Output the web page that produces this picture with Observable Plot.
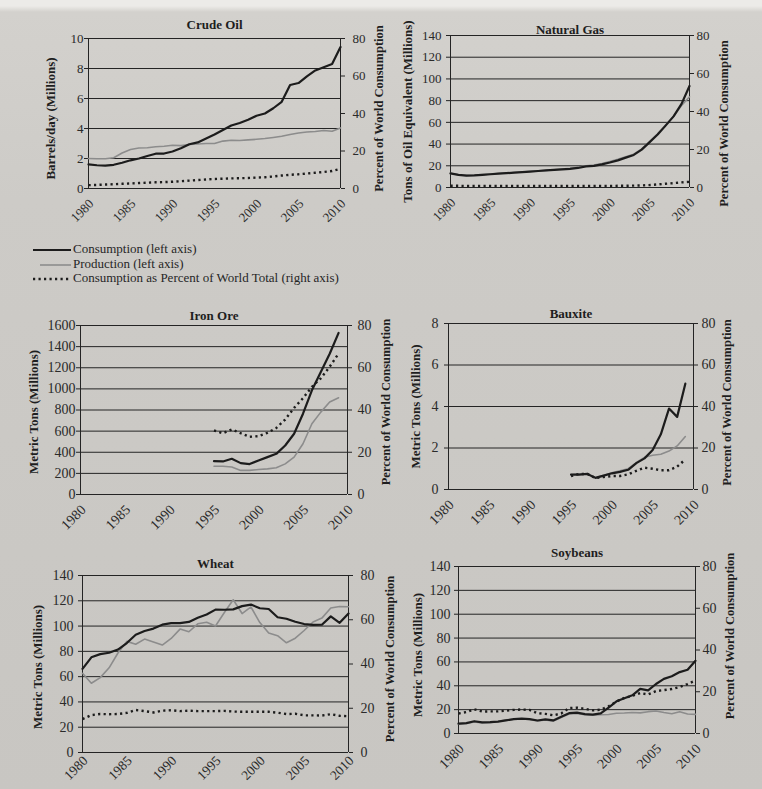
<!DOCTYPE html>
<html>
<head>
<meta charset="utf-8">
<script src="https://cdn.jsdelivr.net/npm/d3@7"></script>
<script src="https://cdn.jsdelivr.net/npm/@observablehq/plot@0.6"></script>
<style>
  html, body { margin: 0; padding: 0; background: #cbc9c5; }
  #page { position: relative; width: 762px; height: 789px; overflow: hidden;
          background: linear-gradient(to bottom, #ecebe8 0px, #ecebe8 6px, #d3d1cd 12px, #cdcbc7 200px, #c8c6c2 789px);
          font-family: 'Liberation Serif', 'DejaVu Serif', serif; color: #262626; }
  .panel { position: absolute; }
  .legrow { position: absolute; left: 0; height: 15px; font-size: 13px; line-height: 15px; white-space: nowrap; }
  .legrow svg { position: absolute; top: 0; }
  .legrow span { position: absolute; left: 40px; top: -1px; }
</style>
</head>
<body>
<div id="page"></div>
<script>
// ---------- Data ----------
const yearsFull = [1980, 1981, 1982, 1983, 1984, 1985, 1986, 1987, 1988, 1989, 1990,
                   1991, 1992, 1993, 1994, 1995, 1996, 1997, 1998, 1999, 2000,
                   2001, 2002, 2003, 2004, 2005, 2006, 2007, 2008, 2009, 2010];
const yearsLate = [1995, 1996, 1997, 1998, 1999, 2000, 2001, 2002, 2003, 2004, 2005, 2006, 2007, 2008, 2009];
const xTickYears = [1980, 1985, 1990, 1995, 2000, 2005, 2010];
const pctTicks = [0, 20, 40, 60, 80];

// Crude Oil (barrels/day, millions)
const oilTicks = [0, 2, 4, 6, 8, 10];
const oilConsumption = [1.61, 1.55, 1.53, 1.58, 1.72, 1.88, 2.0, 2.17, 2.32, 2.33, 2.47,
                        2.68, 2.95, 3.07, 3.33, 3.6, 3.9, 4.2, 4.37, 4.58, 4.85,
                        5.0, 5.35, 5.78, 6.9, 7.03, 7.48, 7.87, 8.08, 8.3, 9.43];
const oilProduction = [2.0, 1.98, 1.98, 2.05, 2.37, 2.6, 2.7, 2.72, 2.78, 2.82, 2.88,
                       2.86, 2.93, 2.97, 3.0, 3.0, 3.16, 3.22, 3.2, 3.24, 3.28,
                       3.33, 3.4, 3.48, 3.6, 3.7, 3.77, 3.8, 3.87, 3.82, 4.04];
const oilPct = [1.8, 1.9, 2.1, 2.3, 2.5, 2.7, 2.9, 3.1, 3.3, 3.4, 3.6,
                3.9, 4.2, 4.5, 4.8, 5.1, 5.2, 5.4, 5.5, 5.6, 5.8,
                6.0, 6.4, 6.9, 7.3, 7.6, 8.0, 8.4, 8.8, 9.3, 10.5];

// Natural Gas (tons of oil equivalent, millions)
const gasTicks = [0, 20, 40, 60, 80, 100, 120, 140];
const gasConsumption = [13, 11.7, 11, 11.2, 11.7, 12.2, 12.7, 13.2, 13.7, 14.2, 14.7,
                        15.2, 15.7, 16.2, 16.7, 17.2, 18, 19.4, 19.9, 21.3, 23,
                        25, 27.5, 30, 34.9, 41.8, 48.8, 57, 65.5, 77, 93.5];
const gasProduction = [13, 11.8, 11.2, 11.4, 11.9, 12.4, 12.9, 13.3, 13.8, 14.3, 14.9,
                       15.3, 15.8, 16.4, 17.0, 17.6, 18.6, 20.0, 20.6, 22.0, 24.0,
                       26.0, 28.3, 30.7, 35.5, 42.4, 49.5, 57.5, 65.5, 75.5, 83.5];
const gasPct = [0.9, 0.9, 0.8, 0.8, 0.8, 0.8, 0.8, 0.8, 0.8, 0.8, 0.8,
                0.8, 0.8, 0.8, 0.8, 0.8, 0.8, 0.8, 0.8, 0.8, 0.8,
                0.9, 0.9, 1.0, 1.1, 1.3, 1.6, 2.0, 2.3, 2.7, 3.0];

// Iron Ore (metric tons, millions)
const ironTicks = [0, 200, 400, 600, 800, 1000, 1200, 1400, 1600];
const ironConsumption = [316, 313, 338, 297, 288, 322, 354, 385, 464, 575, 765, 986, 1160, 1333, 1530];
const ironProduction = [268, 268, 260, 228, 228, 237, 243, 253, 290, 354, 480, 670, 780, 875, 916];
const ironPct = [30.3, 29, 30.8, 29, 27.3, 27.6, 29.2, 31.5, 35.5, 41, 45.6, 51, 55, 60.5, 66.7];

// Bauxite (metric tons, millions)
const bauxTicks = [0, 2, 4, 6, 8];
const bauxConsumption = [0.72, 0.72, 0.75, 0.56, 0.67, 0.78, 0.85, 0.95, 1.27, 1.5, 1.9, 2.66, 3.9, 3.5, 5.1];
const bauxProduction = [0.72, 0.75, 0.75, 0.58, 0.68, 0.8, 0.9, 1.0, 1.3, 1.55, 1.65, 1.7, 1.85, 2.1, 2.55];
const bauxPct = [6.5, 7.5, 7.5, 5.5, 6, 6.5, 6.5, 7.3, 9, 10.5, 10, 9.3, 9.3, 11, 14.5];

// Wheat (metric tons, millions)
const wheatTicks = [0, 20, 40, 60, 80, 100, 120, 140];
const wheatConsumption = [66.2, 75.3, 77.8, 78.9, 81.4, 86.6, 93.1, 96.1, 98, 101.1, 102.3,
                          102.4, 103.3, 106.6, 109.2, 113, 112.9, 113.2, 115.8, 117, 114.1,
                          113.5, 107, 105.8, 103.4, 101.6, 101, 101.1, 107.7, 102.6, 109.9];
const wheatProduction = [62.7, 54.8, 59.2, 67, 78.7, 87.9, 85.6, 89.7, 87.4, 85, 90.2,
                         97.6, 95.5, 101.8, 103, 100.1, 110.7, 120.8, 109.9, 115.1, 102.8,
                         94.5, 92.4, 86.8, 90.4, 96.5, 103.2, 106.3, 114.3, 115.5, 115.3];
const wheatPct = [15.1, 16.9, 17.4, 17.3, 17.4, 17.9, 19.2, 18.7, 18.1, 18.9, 19.1,
                  18.7, 18.9, 18.7, 18.7, 18.7, 18.8, 18.5, 18.4, 18.4, 18.4,
                  18.4, 18.0, 17.4, 17.5, 16.8, 16.8, 16.7, 17.3, 16.6, 16.4];

// Soybeans (metric tons, millions)
const soyTicks = [0, 20, 40, 60, 80, 100, 120, 140];
const soyConsumption = [8.3, 8.7, 10.3, 9.3, 9.5, 10, 11, 12, 12.5, 12.1, 10.9,
                        11.9, 11, 14, 17, 17.5, 16.2, 15.8, 16.9, 21.7, 27,
                        29.5, 32, 37.4, 36.1, 41.5, 45.8, 48, 51.5, 53.4, 61];
const soyProduction = [7.7, 8.4, 9.7, 8.8, 9, 10, 11.5, 12, 12.2, 11.8, 10.6,
                       11.3, 10.4, 13.4, 16.4, 16.9, 15.7, 15.3, 15.7, 15.9, 17,
                       17.2, 17.6, 17.3, 18.3, 18.8, 17.6, 16.6, 18.2, 16.4, 16];
const soyPct = [9.6, 10.3, 11.6, 10.5, 10.6, 10.6, 10.9, 11.3, 11.5, 11.3, 9.7,
                9.4, 8.7, 9.6, 12.2, 12.4, 11.8, 11.1, 11.4, 13, 15.3,
                17.1, 18, 19.4, 18.7, 20.3, 20.8, 21.3, 22.3, 23.7, 25.4];

const rightLabel = "Percent of World Consumption";
const legendItems = ["Consumption (left axis)", "Production (left axis)", "Consumption as Percent of World Total (right axis)"];

// ---------- Drawing ----------
const INK = "#242424";
const GREY = "#8c8c8c";
const FONT = "'Liberation Serif', 'DejaVu Serif', serif";

function panel(c) {
  const k = c.leftMax / 80;
  const rows = c.years.map((yr, i) => ({year: yr, cons: c.cons[i], prod: c.prod[i], pctY: c.pct[i] * k}));
  const svg = Plot.plot({
    width: c.width, height: c.height,
    marginLeft: c.mL, marginRight: c.mR, marginTop: c.mT, marginBottom: c.mB,
    x: {domain: [1980, 2010]},
    y: {domain: [0, c.leftMax]},
    style: {background: "transparent", color: "#2a2a2a", fontFamily: FONT, fontSize: c.fs + "px", overflow: "visible"},
    marks: [
      Plot.ruleY(c.ticks, {stroke: INK, strokeWidth: 1}),
      Plot.ruleX([1980, 2010], {stroke: INK, strokeWidth: 1}),
      Plot.axisY(c.ticks, {anchor: "left", tickSize: 4, tickPadding: c.padL, label: null,
                           tickFormat: d => String(d), fontSize: c.fs, stroke: INK}),
      Plot.axisY(pctTicks.map(p => p * k), {anchor: "right", tickSize: 4, tickPadding: c.padR, label: null,
                           tickFormat: d => String(Math.round(d / k)), fontSize: c.fs, stroke: INK}),
      Plot.axisX(xTickYears, {anchor: "bottom", tickSize: 0, tickPadding: c.padX, tickRotate: -45, label: null,
                           tickFormat: d => String(d), fontSize: c.xfs, dx: 3}),
      Plot.line(rows, {x: "year", y: "prod", stroke: GREY, strokeWidth: 1.6}),
      Plot.line(rows, {x: "year", y: "cons", stroke: "#1c1c1c", strokeWidth: 2.2}),
      Plot.line(rows, {x: "year", y: "pctY", stroke: "#1c1c1c", strokeWidth: 2.4,
                       strokeDasharray: "2.2,3.3", strokeLinecap: "butt"}),
      Plot.text([c.title], {text: d => d, frameAnchor: "top", lineAnchor: "middle", textAnchor: "middle",
                            dy: c.tDy, fontWeight: "bold", fontSize: 13, fill: "#1e1e1e"}),
      Plot.text([c.leftLabel], {text: d => d, frameAnchor: "left", rotate: -90, textAnchor: "middle", lineAnchor: "middle",
                                dx: c.lDx, dy: c.lDy, fontWeight: "bold", fontSize: 13, fill: "#1e1e1e"}),
      Plot.text([rightLabel], {text: d => d, frameAnchor: "right", rotate: -90, textAnchor: "middle", lineAnchor: "middle",
                               dx: c.rDx, dy: c.rDy, fontWeight: "bold", fontSize: 12.5, fill: "#1e1e1e"})
    ]
  });
  const div = document.createElement("div");
  div.className = "panel";
  div.style.left = c.left + "px";
  div.style.top = c.top + "px";
  div.appendChild(svg);
  document.getElementById("page").appendChild(div);
}

panel({title: "Crude Oil", leftLabel: "Barrels/day (Millions)", leftMax: 10, ticks: oilTicks,
       years: yearsFull, cons: oilConsumption, prod: oilProduction, pct: oilPct,
       left: 0, top: 0, width: 400, height: 240, mL: 88, mR: 60, mT: 38, mB: 52,
       fs: 13, xfs: 13, padL: 1, padR: 8, padX: 13, tDy: -14, lDx: -38, lDy: 5, rDx: 38, rDy: -5});

panel({title: "Natural Gas", leftLabel: "Tons of Oil Equivalent (Millions)", leftMax: 140, ticks: gasTicks,
       years: yearsFull, cons: gasConsumption, prod: gasProduction, pct: gasPct,
       left: 390, top: 0, width: 372, height: 240, mL: 60, mR: 73, mT: 35, mB: 53,
       fs: 13, xfs: 13, padL: 5, padR: 3, padX: 13, tDy: -6, lDx: -43, lDy: 0, rDx: 34, rDy: 12});

panel({title: "Iron Ore", leftLabel: "Metric Tons (Millions)", leftMax: 1600, ticks: ironTicks,
       years: yearsLate, cons: ironConsumption, prod: ironProduction, pct: ironPct,
       left: 0, top: 290, width: 400, height: 250, mL: 80, mR: 53, mT: 35, mB: 46,
       fs: 14, xfs: 14, padL: 1, padR: 6, padX: 13, tDy: -10, lDx: -47, lDy: 2, rDx: 38, rDy: -8});

panel({title: "Bauxite", leftLabel: "Metric Tons (Millions)", leftMax: 8, ticks: bauxTicks,
       years: yearsLate, cons: bauxConsumption, prod: bauxProduction, pct: bauxPct,
       left: 390, top: 290, width: 372, height: 250, mL: 58, mR: 69, mT: 33, mB: 51,
       fs: 14, xfs: 14, padL: 6, padR: 4, padX: 13, tDy: -10, lDx: -33, lDy: 0, rDx: 33, rDy: -4});

panel({title: "Wheat", leftLabel: "Metric Tons (Millions)", leftMax: 140, ticks: wheatTicks,
       years: yearsFull, cons: wheatConsumption, prod: wheatProduction, pct: wheatPct,
       left: 0, top: 540, width: 400, height: 249, mL: 82, mR: 52, mT: 35, mB: 37,
       fs: 14, xfs: 13.5, padL: 5, padR: 8, padX: 6, tDy: -12, lDx: -45, lDy: 3, rDx: 41, rDy: -5});

panel({title: "Soybeans", leftLabel: "Metric Tons (Millions)", leftMax: 140, ticks: soyTicks,
       years: yearsFull, cons: soyConsumption, prod: soyProduction, pct: soyPct,
       left: 390, top: 540, width: 372, height: 249, mL: 68, mR: 67, mT: 26, mB: 56,
       fs: 14, xfs: 14, padL: 4, padR: 3, padX: 13, tDy: -14, lDx: -41, lDy: 5, rDx: 34, rDy: -14});

// ---------- Legend ----------
const legend = document.createElement("div");
legend.style.position = "absolute";
legend.style.left = "33px";
legend.style.top = "242px";
const legendStyles = [
  {stroke: "#1c1c1c", width: 2.2, dash: null, x1: 0},
  {stroke: GREY, width: 1.6, dash: null, x1: 7},
  {stroke: "#1c1c1c", width: 2.4, dash: "2.2,3.3", x1: 0}
];
legendItems.forEach((label, i) => {
  const row = document.createElement("div");
  row.className = "legrow";
  row.style.top = (i * 14.5) + "px";
  const s = legendStyles[i];
  row.innerHTML =
    `<svg width="40" height="15"><line x1="${s.x1}" x2="38" y1="8" y2="8" stroke="${s.stroke}" stroke-width="${s.width}"` +
    (s.dash ? ` stroke-dasharray="${s.dash}"` : "") + `/></svg><span></span>`;
  row.querySelector("span").textContent = label;
  legend.appendChild(row);
});
document.getElementById("page").appendChild(legend);
</script>
</body>
</html>
